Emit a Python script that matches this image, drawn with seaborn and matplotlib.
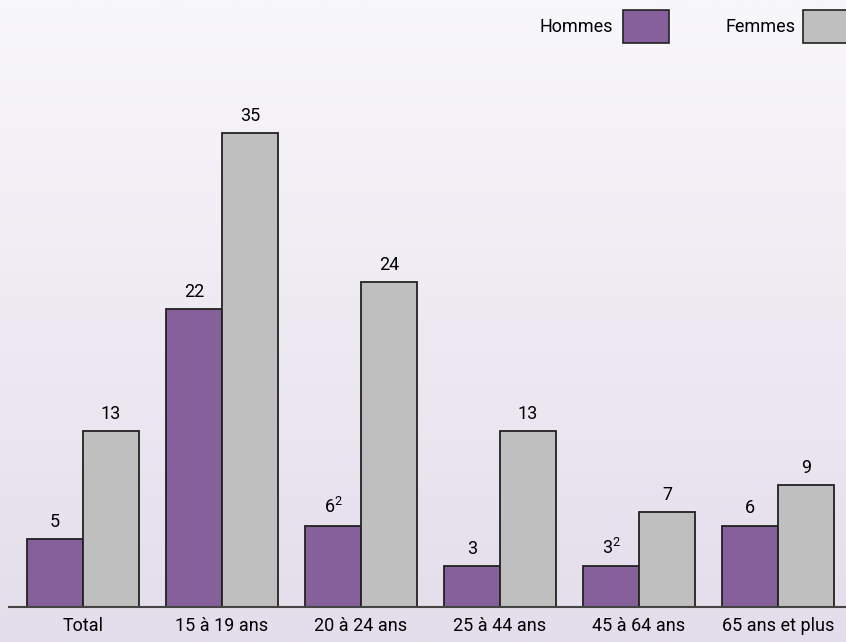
import numpy as np
import pandas as pd
import matplotlib
import matplotlib.pyplot as plt
import seaborn as sns
from matplotlib.patches import Rectangle

# données
categories = ['Total', '15 à 19 ans', '20 à 24 ans', '25 à 44 ans', '45 à 64 ans', '65 ans et plus']
hommes = [5, 22, 6, 3, 3, 6]
femmes = [13, 35, 24, 13, 7, 9]
labels_hommes = ['5', '22', '6$^{2}$', '3', '3$^{2}$', '6']
labels_femmes = ['13', '35', '24', '13', '7', '9']
series = ['Hommes', 'Femmes']
couleurs = {'Hommes': '#86609a', 'Femmes': '#bfbfbf'}

df = pd.DataFrame({
    'groupe': categories * 2,
    'valeur': hommes + femmes,
    'sexe': ['Hommes'] * len(categories) + ['Femmes'] * len(categories),
})

sns.set_theme(style="white")
plt.rcParams['font.family'] = ['Roboto', 'DejaVu Sans']
plt.rcParams['mathtext.fontset'] = 'custom'
plt.rcParams['mathtext.rm'] = 'Roboto'
plt.rcParams['mathtext.default'] = 'rm'
plt.rcParams['text.color'] = 'black'
plt.rcParams['xtick.color'] = 'black'

W, H = 846, 642
fig = plt.figure(figsize=(W / 100, H / 100), dpi=100)

# fond en dégradé (blanc en haut, lavande en bas)
bg = fig.add_axes([0, 0, 1, 1], zorder=0)
top = np.array([248, 247, 250]) / 255
bot = np.array([228, 221, 235]) / 255
t = np.linspace(0, 1, 256)[:, None]
grad = top[None, :] * (1 - t) + bot[None, :] * t
bg.imshow(grad[:, None, :], aspect='auto', extent=[0, 1, 0, 1])
bg.axis('off')

# axe principal
x0 = 9 / W
ax = fig.add_axes([x0, 35 / H, 1 - x0, (607 - 50) / H], zorder=1)
ax.patch.set_alpha(0)

sns.barplot(data=df, x='groupe', y='valeur', hue='sexe', hue_order=series,
            palette=couleurs, width=0.806, edgecolor='#222222', linewidth=1.3,
            saturation=1, legend=False, ax=ax)

ax.bar_label(ax.containers[0], labels=labels_hommes, padding=6, fontsize=13)
ax.bar_label(ax.containers[1], labels=labels_femmes, padding=6, fontsize=13)

px_x = 139.0
px_y = 474 / 35
ax.set_xlim((9 - 83) / px_x, (W - 83) / px_x)
ax.set_ylim(0, (607 - 50) / px_y)

for s in ['top', 'right', 'left']:
    ax.spines[s].set_visible(False)
ax.spines['bottom'].set_color('#444444')
ax.spines['bottom'].set_linewidth(1.5)
ax.set_yticks([])
ax.set_xlabel('')
ax.set_ylabel('')
ax.tick_params(axis='x', length=0, pad=7, labelsize=13)

# légende manuelle
fig.text(613 / W, 1 - 27 / H, 'Hommes', ha='right', va='center', fontsize=13)
fig.patches.append(Rectangle((623 / W, 1 - 43 / H), 46 / W, 33 / H, transform=fig.transFigure,
                             facecolor=couleurs['Hommes'], edgecolor='#222222', linewidth=1.2))
fig.text(725 / W, 1 - 27 / H, 'Femmes', ha='left', va='center', fontsize=13)
fig.patches.append(Rectangle((803 / W, 1 - 43 / H), 46 / W, 33 / H, transform=fig.transFigure,
                             facecolor=couleurs['Femmes'], edgecolor='#222222', linewidth=1.2))

plt.savefig('out.png', dpi=100)
